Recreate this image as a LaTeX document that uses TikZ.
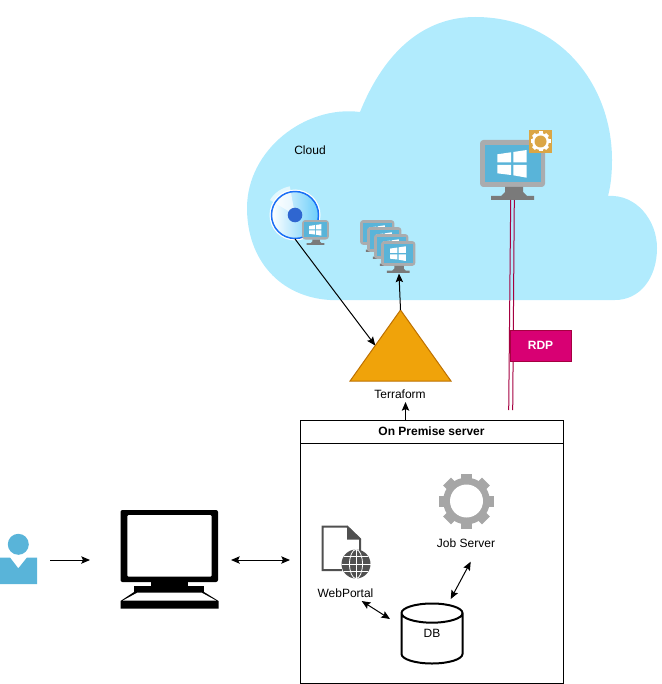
\documentclass[tikz,border=0pt]{standalone}
\usepackage{fontspec}
\setmainfont{Liberation Sans}
\usetikzlibrary{shapes.geometric,arrows.meta}
\definecolor{cloudblue}{RGB}{177,235,253}
\definecolor{winblue}{RGB}{89,180,217}
\definecolor{framegrey}{RGB}{170,172,174}
\definecolor{standgrey}{RGB}{122,122,122}
\definecolor{gearfill}{RGB}{166,166,166}
\definecolor{badge}{RGB}{219,166,69}
\definecolor{ring}{RGB}{26,111,245}
\definecolor{hub}{RGB}{47,102,208}
\definecolor{pagegrey}{RGB}{80,80,80}
\definecolor{tforange}{RGB}{240,163,10}
\definecolor{tfline}{RGB}{189,112,0}
\definecolor{rdpfill}{RGB}{216,0,115}
\definecolor{rdpline}{RGB}{165,0,64}
\definecolor{discblue}{RGB}{105,205,250}
\tikzset{
  >={Stealth[length=6.5pt,width=5.5pt,inset=1.2pt]},
  lbl/.style={inner sep=0pt,font=\fontsize{9}{11}\selectfont},
  pxsize/.style 2 args={minimum width=#1*0.75pt,minimum height=#2*0.75pt},
  iconbox/.style={inner sep=0pt,outer sep=0pt},
  link/.style={<->,line width=0.75pt},
  winpc/.pic={
    \fill [framegrey,rounded corners=2.5] (0,0) rectangle (65,47);
    \fill [winblue] (5,5) rectangle (60.7,42);
    \fill [standgrey] (25,47) -- (43,47) -- (43,52) -- (47,56) -- (54,56) -- (54,60) -- (11,60) -- (11,56) -- (21,56) -- (25,52) -- cycle;
    \fill [white] (17.3,14.3) -- (31,12.3) -- (31,22.3) -- (17.3,22.3) -- cycle;
    \fill [white] (33.3,12) -- (46.7,10) -- (46.7,22.3) -- (33.3,22.3) -- cycle;
    \fill [white] (17.3,25) -- (31,25) -- (31,35) -- (17.3,33.3) -- cycle;
    \fill [white] (33.3,25) -- (46.7,25) -- (46.7,37.7) -- (33.3,35.3) -- cycle;
  }
}
\newcommand{\geartool}[5]{% centre x, centre y, radius, colour, hole colour
  \fill [#4] (#1,#2) circle ({0.85*#3});
  \foreach \a in {0,45,...,315} {
    \fill [#4,shift={(#1,#2)},rotate=\a] (-0.2*#3,0) rectangle (0.2*#3,#3);
  }
  \fill [#5] (#1,#2) circle ({0.6*#3});
}
\begin{document}
\begin{tikzpicture}[x=0.75pt,y=-0.75pt]
\useasboundingbox (0,0) rectangle (661,684);

% cloud
\fill [cloudblue] (330,300) .. controls (280,297) and (247,260) .. (247,208)
  .. controls (247,150) and (305,105) .. (360,112)
  .. controls (385,50) and (425,17) .. (475,17)
  .. controls (560,17) and (612,85) .. (612,160)
  .. controls (612,172) and (611,185) .. (608,196)
  .. controls (636,194) and (657,220) .. (657,248)
  .. controls (657,278) and (640,300) .. (615,300) -- cycle;
\node [lbl] (cloudlbl) at (310,150) {Cloud};

% disk image
\node [iconbox,circle,pxsize={48}{48}] (disk) at (295,215) {};
\fill [white] (disk.center) circle (25.5);
\shade [left color=white,right color=discblue] (disk.center) circle (24);
\fill [white,opacity=0.65] (disk.center) -- (270,200) arc (-149:-100:29) -- cycle;
\draw [ring,line width=1.1pt] (disk.center) circle (23.5);
\fill [hub] (disk.center) circle (7.3);
\path (302,220) pic [scale=0.415] {winpc};

% vm group
\path (360,220) pic [scale=0.53] {winpc};
\path (367,227) pic [scale=0.53] {winpc};
\path (374,234) pic [scale=0.53] {winpc};
\path (381,241) pic [scale=0.53] {winpc};
\node [iconbox,pxsize={34}{32}] (vmfour) at (399,257.5) {};

% rdp target
\node [iconbox,pxsize={65}{60}] (winpc) at (512.5,170) {};
\path (480,140) pic {winpc};
\fill [badge] (529.3,130) rectangle (551.7,153.3);
\geartool{540.5}{141.5}{10}{white}{badge}

% terraform
\node [iconbox,draw=tfline,fill=tforange,isosceles triangle,shape border rotate=90,
  isosceles triangle apex angle=70.8,pxsize={101}{71},anchor=apex,line width=0.75pt] (tf) at (400.5,310) {};
\node [lbl] (tflbl) at (400,394) {Terraform};

% rdp link
\coordinate (rdpa) at (510.7,200);
\coordinate (rdpb) at (514.3,200);
\coordinate (rdpc) at (508.7,410);
\coordinate (rdpd) at (512.7,410);
\draw [rdpline,line width=0.75pt] (rdpa) -- (rdpc);
\draw [rdpline,line width=0.75pt] (rdpb) -- (rdpd);
\node [iconbox,draw=rdpline,fill=rdpfill,pxsize={61}{31},text=white,font=\fontsize{9}{11}\selectfont\bfseries,line width=0.75pt] (rdp) at (540.5,345.5) {RDP};

% server
\node [iconbox,draw,line width=0.75pt,pxsize={263}{263}] (server) at (431.5,551.5) {};
\node [iconbox,draw,line width=0.75pt,pxsize={263}{23},font=\fontsize{9}{11}\selectfont\bfseries] (title) at (431.5,431.5) {On Premise server};

% job server
\node [iconbox,circle,pxsize={54}{54}] (gear) at (466.5,501) {};
\geartool{466.5}{501}{27.5}{gearfill}{white}
\node [lbl] (joblbl) at (466,543) {Job Server};

% web portal
\node [iconbox,pxsize={50}{48}] (page) at (345,548) {};
\fill [pagegrey] (347,525.5) -- (347,539.5) -- (361,539.5) -- cycle;
\draw [pagegrey,line width=1.5pt] (342,570) -- (322.5,570) -- (322.5,526.5) -- (347,526.5) -- (360,539) -- (360,552);
\fill [pagegrey] (356,564) circle (14.5);
\draw [white,line width=0.6pt] (356,564) ellipse (6.5 and 14.5);
\draw [white,line width=0.6pt] (356,549.5) -- (356,578.5);
\draw [white,line width=0.6pt] (341.5,564) -- (370.5,564);
\draw [white,line width=0.6pt] (344,556.5) -- (368,556.5);
\draw [white,line width=0.6pt] (344,571.5) -- (368,571.5);
\node [lbl] (weblbl) at (345.5,593) {WebPortal};

% database
\node [iconbox,draw,cylinder,shape border rotate=90,aspect=1.15,line width=1.5pt,
  pxsize={61}{60},anchor=shape center,font=\fontsize{9}{11}\selectfont] (db) at (432,633.5) {\phantom{DB}};
\node [lbl] (dblbl) at (432,633) {DB};

% user
\fill [winblue] (18.3,544.3) circle (10.5);
\fill [winblue] (0,557.5) -- (10,557.5) -- (18.3,568.3) -- (27,557.5) -- (37,557.5) -- (37,584) -- (0,584) -- cycle;
\node [iconbox,pxsize={37}{27}] (user) at (18.5,570.5) {};

% desktop
\fill [rounded corners=1.5] (120.5,510) rectangle (218,582);
\fill [white,rounded corners=1] (127.3,515) rectangle (211.7,576.7);
\fill (150.7,581) rectangle (188,587);
\fill (134,586) rectangle (204,593);
\fill (134,592) -- (204,592) -- (218.5,601) -- (218.5,608.5) -- (120.5,608.5) -- (120.5,601) -- cycle;
\fill [white] (137.3,592.7) -- (201.7,592.7) -- (216,600.5) -- (123,600.5) -- cycle;
\node [iconbox,pxsize={98}{99}] (desktop) at (169.5,559.5) {};

% arrows
\coordinate (usrend) at (50,560);
\coordinate (dskend) at (90,560);
\coordinate (pcend) at (231,560);
\coordinate (srvend) at (290,560);
\coordinate (tfbot) at (405.5,420);
\coordinate (tftop) at (405.5,402);
\draw [->,line width=0.75pt] (disk.south) -- (tf.left side);
\draw [->,line width=0.75pt] (tf.apex) -- (vmfour.south);
\draw [->,line width=0.75pt] (tfbot) -- (tftop);
\draw [->,line width=0.75pt] (usrend) -- (dskend);
\draw [link] (pcend) -- (srvend);
\coordinate (webend) at (361.7,601);
\coordinate (dbl) at (390,619);
\coordinate (jobend) at (470.7,561.7);
\coordinate (dbt) at (450.7,599);
\draw [link] (webend) -- (dbl);
\draw [link] (jobend) -- (dbt);

\end{tikzpicture}
\end{document}
